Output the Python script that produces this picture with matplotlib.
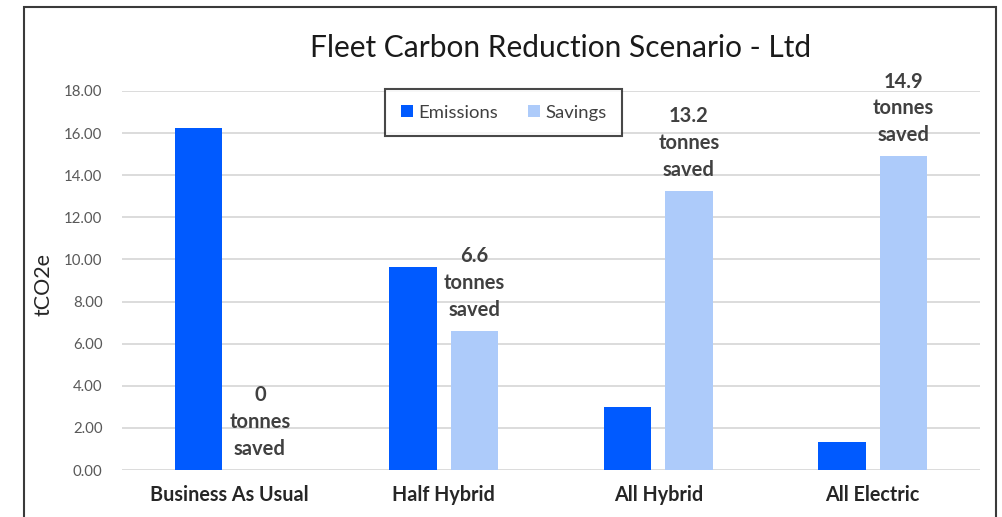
import matplotlib
matplotlib.use("Agg")
import matplotlib.pyplot as plt
import numpy as np
from matplotlib.patches import Rectangle

categories = ["Business As Usual", "Half Hybrid", "All Hybrid", "All Electric"]
emissions = [16.24, 9.64, 3.0, 1.33]
savings = [0.0, 6.6, 13.25, 14.9]
saved_labels = ["0", "6.6", "13.2", "14.9"]
yticks = [0, 2, 4, 6, 8, 10, 12, 14, 16, 18]

EMIS_COLOR = "#005AFF"
SAVE_COLOR = "#ADCBFA"
TEXT_DARK = "#404040"

plt.rcParams["font.family"] = ["Lato", "DejaVu Sans"]

fig = plt.figure(figsize=(10.02, 5.17), dpi=100, facecolor="white")
# outer chart frame (bottom edge falls off the picture)
fig.patches.append(Rectangle((23.5 / 1002, -0.05), (995.5 - 23.5) / 1002, (517 - 7) / 517 + 0.05,
                             transform=fig.transFigure, fill=False, edgecolor="#3a3a3a", linewidth=1.5))

ax = fig.add_axes([122 / 1002, 1 - 470 / 517, (980 - 122) / 1002, (470 - 91) / 517])
x = np.arange(len(categories))
w = 0.22
off = 0.143
ax.bar(x - off, emissions, w, color=EMIS_COLOR, label="Emissions", zorder=3)
ax.bar(x + off, savings, w, color=SAVE_COLOR, label="Savings", zorder=3)

for xi, v, lab in zip(x, savings, saved_labels):
    ax.annotate(f"{lab}\ntonnes\nsaved", (xi + off, v), xytext=(0, 8), textcoords="offset points",
                ha="center", va="bottom", fontsize=14.5, fontweight="bold", color=TEXT_DARK,
                linespacing=1.42)

ax.set_xlim(-0.5, 3.5)
ax.set_ylim(0, 18)
ax.set_yticks(yticks)
ax.set_yticklabels([f"{t:.2f}" for t in yticks], fontsize=10.8, color="#595959")
ax.set_xticks(x)
ax.set_xticklabels(categories, fontsize=14.2, fontweight="bold", color="#262626")
ax.tick_params(axis="both", length=0)
ax.tick_params(axis="x", pad=11)
ax.tick_params(axis="y", pad=14)
ax.grid(axis="y", color="#d9d9d9", linewidth=1.3, zorder=0)
for s in ax.spines.values():
    s.set_visible(False)
ax.set_ylabel("tCO2e", fontsize=15.5, color="#262626")
ax.yaxis.set_label_coords(-(122 - 53) / 858, (470 - 285) / 379)

leg = ax.legend(loc="upper left", bbox_to_anchor=((385 - 122) / 858, (470 - 89) / 379), ncol=2,
                frameon=True, fancybox=False, fontsize=13.3, handlelength=0.65, handleheight=0.65,
                handletextpad=0.3, columnspacing=1.6, borderpad=0.85, borderaxespad=0)
leg.get_frame().set_edgecolor("#1a1a1a")
leg.get_frame().set_linewidth(1.5)
for t in leg.get_texts():
    t.set_color(TEXT_DARK)

fig.text(561 / 1002, 1 - 48 / 517, "Fleet Carbon Reduction Scenario - Ltd", ha="center", va="center",
         fontsize=21.5, color="#1a1a1a")

fig.savefig("out.png", dpi=100, facecolor="white")
